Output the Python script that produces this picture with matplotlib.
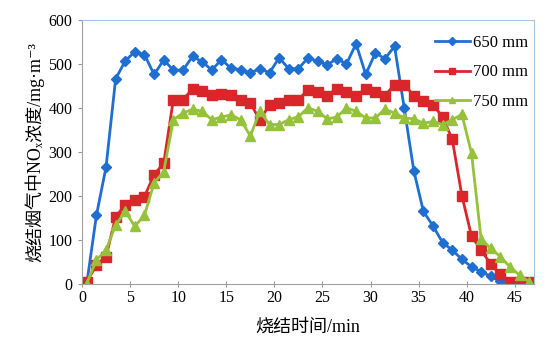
# -*- coding: utf-8 -*-
"""
NOx concentration in sinter flue gas vs. sintering time
for three bed heights (650, 700, 750 mm).
"""
import numpy as np
import matplotlib
matplotlib.use('Agg')
from matplotlib import pyplot as plt

# data (one point per minute,
# drawn half way between the category ticks as in the source chart)
time_min = np.arange(47) + 0.5
nox_650 = [0, 155, 265, 466, 507, 528, 521, 476, 509, 486,
           486, 517, 505, 486, 510, 490, 487, 480, 489, 480,
           514, 489, 489, 514, 506, 498, 512, 500, 546, 476,
           525, 512, 540, 400, 257, 164, 131, 93, 76, 55,
           38, 27, 16, 5, 0, 0, 0]
nox_700 = [4, 42, 61, 152, 179, 190, 198, 248, 274, 419,
           419, 443, 438, 430, 431, 430, 419, 411, 372, 407,
           410, 419, 419, 441, 435, 428, 443, 435, 428, 443,
           435, 428, 453, 453, 428, 415, 407, 379, 328, 200,
           108, 76, 44, 22, 4, 3, 3]
nox_750 = [0, 54, 76, 133, 164, 130, 156, 229, 255, 373,
           388, 397, 392, 373, 379, 384, 373, 336, 392, 362,
           362, 373, 380, 400, 392, 375, 379, 400, 392, 377,
           377, 397, 388, 377, 375, 365, 369, 362, 373, 385,
           297, 101, 80, 61, 38, 19, 4]
series_labels = ['650 mm', '700 mm', '750 mm']
x_ticks = [0, 5, 10, 15, 20, 25, 30, 35, 40, 45]
y_ticks = [0, 100, 200, 300, 400, 500, 600]

serif_cjk = ['Liberation Serif', 'Noto Sans CJK SC', 'DejaVu Sans']
plt.rcParams['font.family'] = serif_cjk

fig = plt.figure(figsize=(5.48, 3.52), dpi=100)
ax = fig.add_axes([0.1496, 0.1946, 0.8249, 0.7485])

ax.plot(time_min, nox_650, color='#1f6fd0', lw=2.0, marker='D', ms=5.5,
        label=series_labels[0])
ax.plot(time_min, nox_700, color='#d9262b', lw=2.0, marker='s', ms=7,
        label=series_labels[1])
ax.plot(time_min, nox_750, color='#95c23a', lw=2.0, marker='^', ms=7,
        label=series_labels[2])

ax.set_xlim(0, 47)
ax.set_ylim(0, 600)
ax.set_xticks(x_ticks)
ax.set_yticks(y_ticks)
ax.tick_params(axis='both', labelsize=11.5, color='#999999', length=3)
ax.tick_params(axis='x', direction='inout', length=4, pad=3)
ax.tick_params(axis='y', direction='out', pad=4)

for side in ['left', 'bottom']:
    ax.spines[side].set_color('#a0a0a0')
for side in ['top', 'right']:
    ax.spines[side].set_color('#a8c4e4')

ax.set_xlabel('烧结时间/min', fontsize=13, labelpad=9)
ax.set_ylabel('烧结烟气中NOₓ浓度/mg·m⁻³', fontsize=13, labelpad=3)

leg = ax.legend(loc='upper right', bbox_to_anchor=(1.02, 1.0),
                frameon=False, fontsize=12, handlelength=2.1,
                handletextpad=0.2, labelspacing=0.8, markerscale=0.7)

fig.savefig('out.png', dpi=100)
